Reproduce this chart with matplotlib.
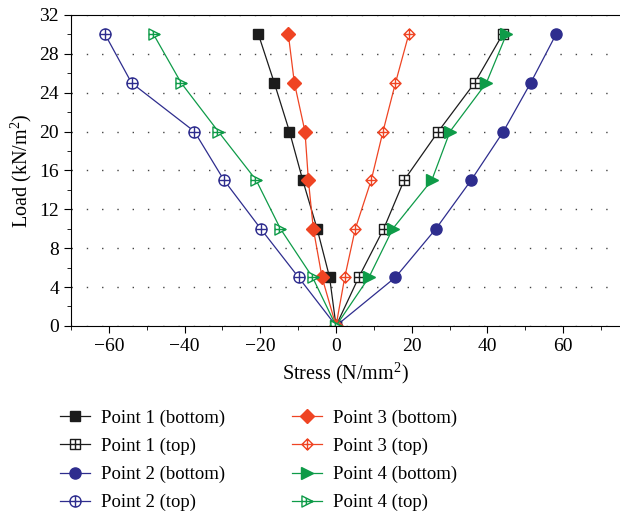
import numpy as np
import matplotlib
matplotlib.use("Agg")
from matplotlib import pyplot as plt
from matplotlib.path import Path
from matplotlib.ticker import MultipleLocator

plt.rcParams['font.family'] = ['Liberation Serif', 'DejaVu Serif']
plt.rcParams['mathtext.fontset'] = 'custom'
plt.rcParams['mathtext.rm'] = 'Liberation Serif'

# load steps (kN/m2)
load = [0, 5, 10, 15, 20, 25, 30]

# stress values (N/mm2)
p1_bottom = [0, -1.7, -5.0, -8.8, -12.3, -16.3, -20.5]
p1_top = [0, 6.0, 12.6, 18.0, 27.0, 36.6, 44.0]
p2_bottom = [0, 15.7, 26.4, 35.7, 44.2, 51.4, 58.1]
p2_top = [0, -9.9, -19.9, -29.6, -37.4, -54.0, -61.0]
p3_bottom = [0, -3.7, -6.0, -7.3, -8.2, -11.0, -12.6]
p3_top = [0, 2.3, 5.1, 9.3, 12.4, 15.7, 19.2]
p4_bottom = [0, 8.7, 15.0, 25.3, 30.1, 39.7, 45.0]
p4_top = [0, -6.2, -14.7, -21.1, -31.1, -40.9, -48.2]

labels = ["Point 1 (bottom)", "Point 1 (top)", "Point 2 (bottom)", "Point 2 (top)",
          "Point 3 (bottom)", "Point 3 (top)", "Point 4 (bottom)", "Point 4 (top)"]

black = "#1c1c1c"
navy = "#2e2d8e"
red = "#ef4423"
green = "#0e9b48"


def with_cross(verts, vx=0.0, half=1.0):
    # closed outline plus a cross inside it
    codes = [Path.MOVETO] + [Path.LINETO] * (len(verts) - 1) + [Path.CLOSEPOLY]
    v = list(verts) + [verts[0]]
    v += [(-1, 0), (1, 0), (vx, -half), (vx, half)]
    codes += [Path.MOVETO, Path.LINETO, Path.MOVETO, Path.LINETO]
    return Path(v, codes)


circ = Path.unit_circle()
circ_plus = Path(np.concatenate([circ.vertices, [[-1, 0], [1, 0], [0, -1], [0, 1]]]),
                 np.concatenate([circ.codes, [Path.MOVETO, Path.LINETO, Path.MOVETO, Path.LINETO]]))
sq_plus = with_cross([(-1, -1), (1, -1), (1, 1), (-1, 1)])
dia_plus = with_cross([(0, 1.3), (1.3, 0), (0, -1.3), (-1.3, 0)], half=1.3)
tri_plus = with_cross([(-1, 1), (1, 0), (-1, -1)], vx=-0.2, half=0.6)

series = [
    (p1_bottom, black, "s", 6.5, black),
    (p1_top, black, sq_plus, 7, "white"),
    (p2_bottom, navy, "o", 8, navy),
    (p2_top, navy, circ_plus, 8, "white"),
    (p3_bottom, red, "D", 7, red),
    (p3_top, red, dia_plus, 8, "white"),
    (p4_bottom, green, ">", 9, green),
    (p4_top, green, tri_plus, 8, "white"),
]

fig = plt.figure(figsize=(6.2, 5.14), dpi=100)
ax = fig.add_axes([0.1145, 0.366, 0.8855, 0.605])

for (vals, c, m, ms, fc), lab in zip(series, labels):
    ax.plot(vals, load, color=c, lw=0.9, marker=m, ms=ms, mfc=fc, mec=c,
            mew=1.0, label=lab)

ax.set_xlim(-70, 75)
ax.set_ylim(0, 32)
ax.xaxis.set_major_locator(MultipleLocator(20))
ax.xaxis.set_minor_locator(MultipleLocator(10))
ax.yaxis.set_major_locator(MultipleLocator(4))
ax.yaxis.set_minor_locator(MultipleLocator(2))
ax.set_xticks([-60, -40, -20, 0, 20, 40, 60])
ax.tick_params(which="both", direction="out", top=False, right=False, labelsize=14)
ax.tick_params(which="major", length=5)
ax.tick_params(which="minor", length=3)
ax.spines["right"].set_visible(False)
ax.yaxis.grid(True, linestyle=(0, (1, 10)), color="#444444", lw=1.0)
ax.set_axisbelow(True)

ax.set_xlabel("Stress (N/mm$^2$)", fontsize=14.5, labelpad=4)
ax.set_ylabel("Load (kN/m$^2$)", fontsize=14.5, labelpad=4)

h, l = ax.get_legend_handles_labels()
fig.legend(h, l, ncol=2, loc="upper left", bbox_to_anchor=(0.07, 0.236),
           frameon=False, fontsize=13.5, handlelength=1.6, columnspacing=3.6,
           labelspacing=0.58, handletextpad=0.55)

fig.savefig("out.png", dpi=100)
